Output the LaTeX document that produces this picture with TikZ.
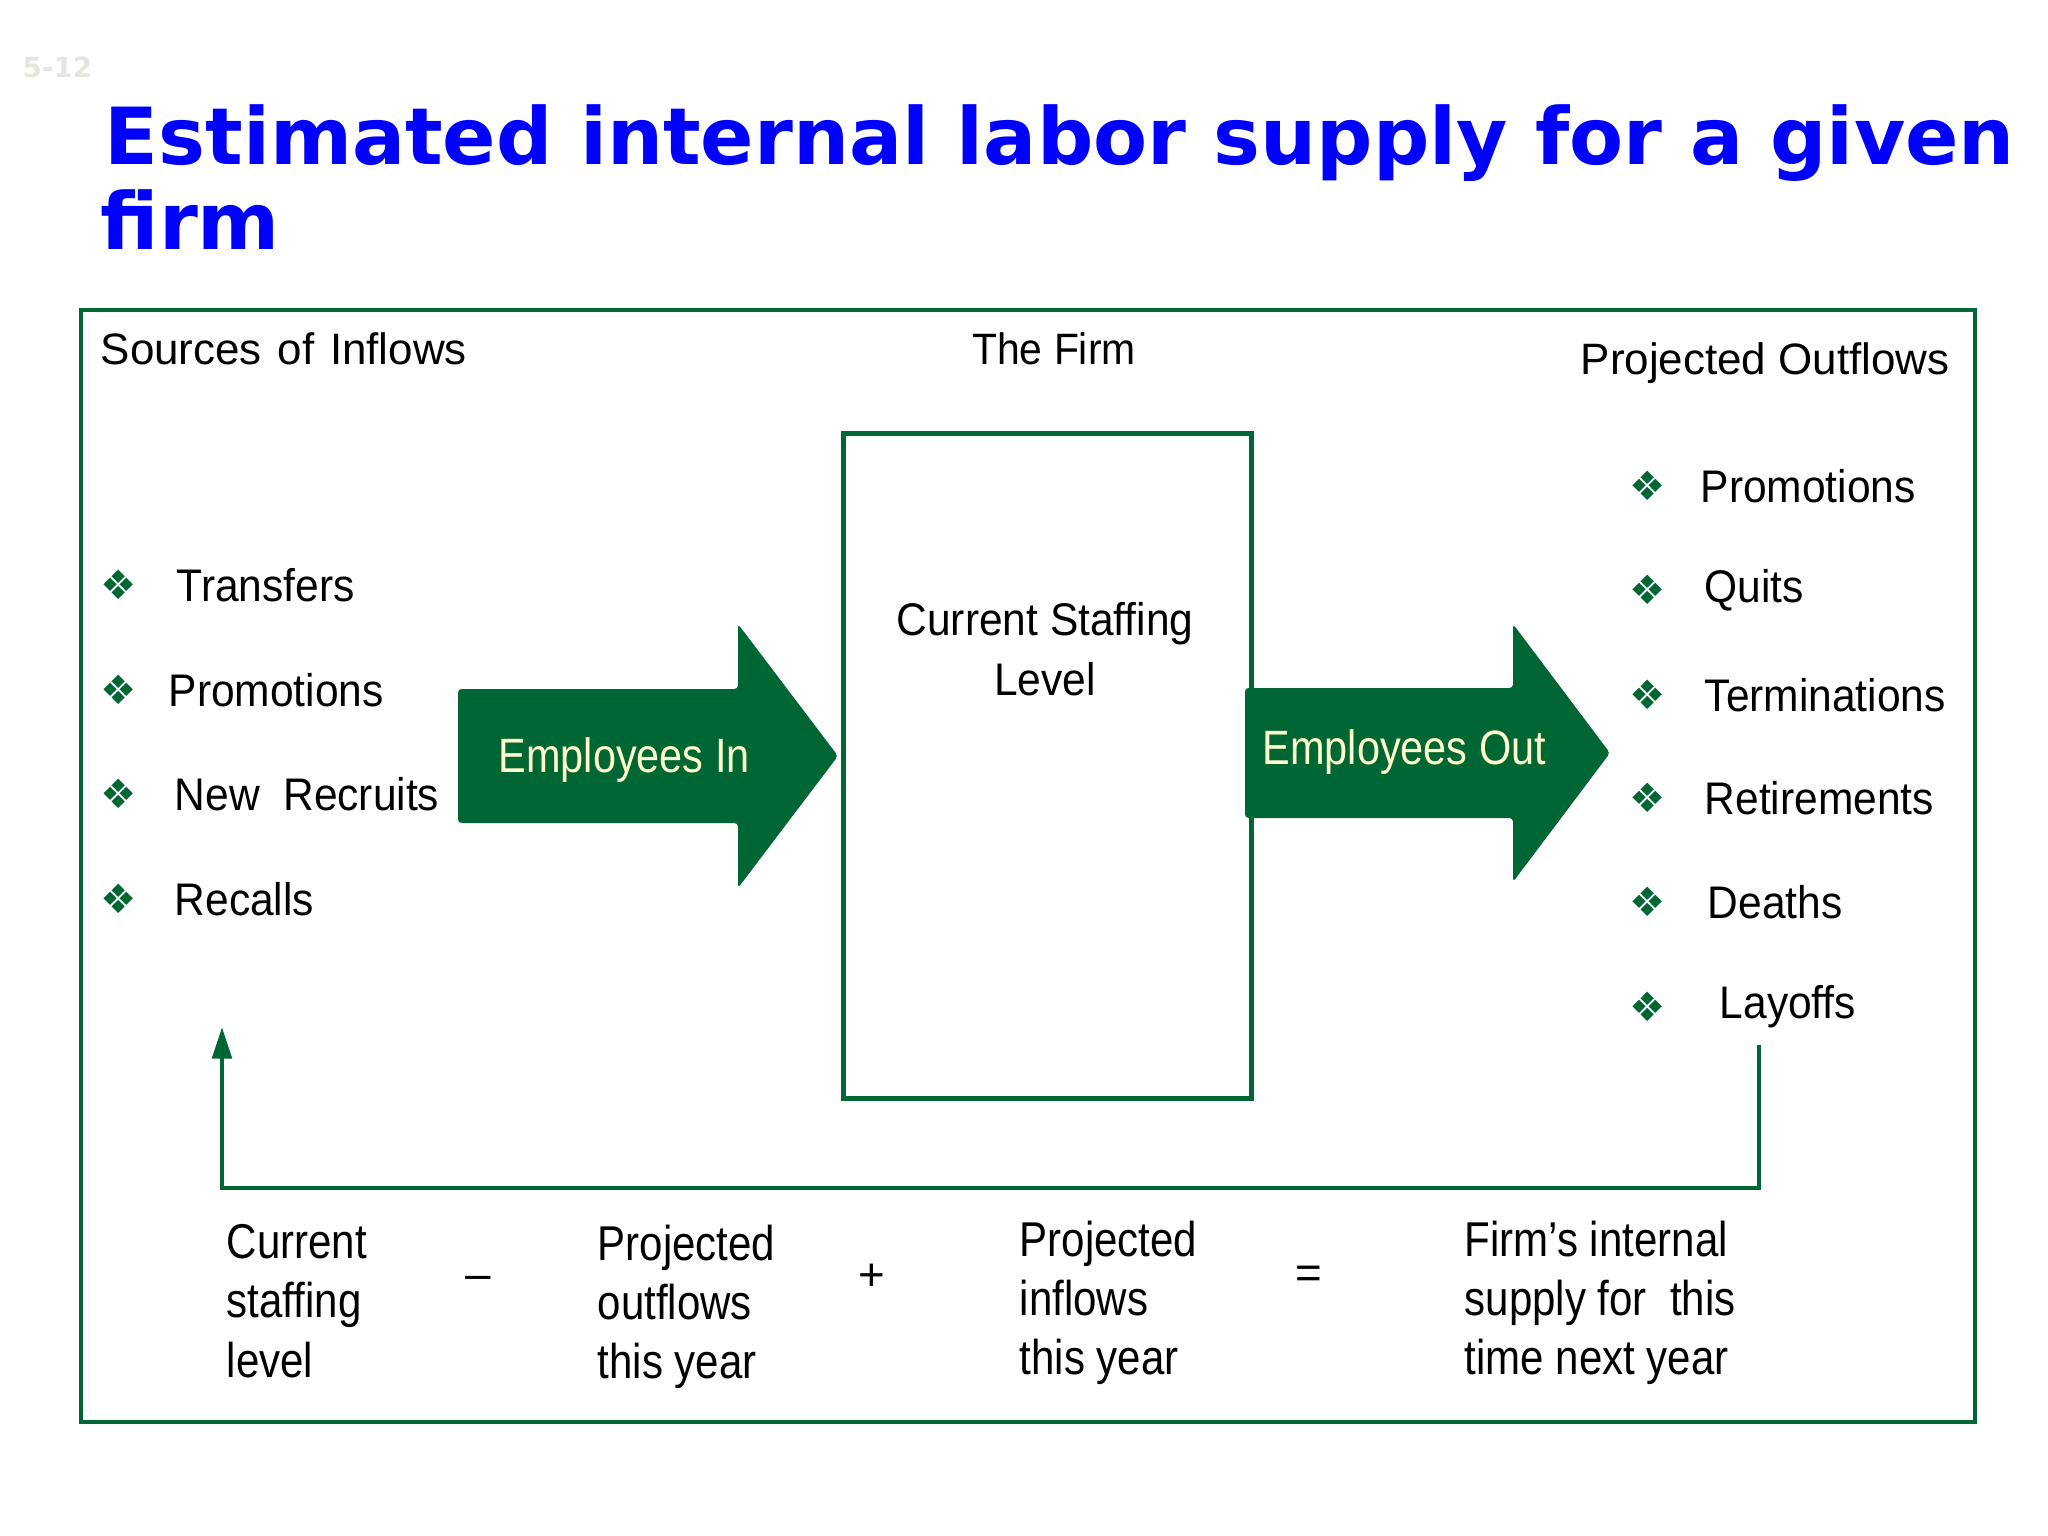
\documentclass[tikz,border=0pt]{standalone}
\usepackage{fontspec}
\setmainfont{Liberation Sans}
\newfontfamily\narrowfont[FakeStretch=0.86]{Liberation Sans}
\newfontfamily\boxfont[FakeStretch=0.93]{Liberation Sans}
\newfontfamily\titlefont{DejaVu Sans}
\newfontfamily\symfont{DejaVu Sans}
\usetikzlibrary{arrows.meta}
\definecolor{firmgreen}{RGB}{0,102,51}
\definecolor{titleblue}{RGB}{0,0,255}
\definecolor{arrowtext}{RGB}{255,255,204}
\definecolor{pagegray}{RGB}{230,230,224}

\begin{document}
\begin{tikzpicture}[x=0.01cm, y=-0.01cm, inner sep=0pt,
    titletext/.style={font=\titlefont\bfseries\fontsize{22.4}{26}\selectfont, text=titleblue},
    headtext/.style={font=\fontsize{12.5}{15}\selectfont},
    item/.style={font=\boxfont\fontsize{13}{15}\selectfont, anchor=west},
    bullet/.style={font=\symfont\fontsize{11.5}{11.5}\selectfont, text=firmgreen},
    arrowlabel/.style={font=\narrowfont\fontsize{13.7}{16}\selectfont, text=arrowtext, anchor=west},
    sumtext/.style={font=\narrowfont\fontsize{13.9}{16.8}\selectfont, align=left, anchor=north west},
    optext/.style={font=\fontsize{13}{15}\selectfont},
    greenline/.style={draw=firmgreen, line width=1.4pt}]
    \useasboundingbox (0,0) rectangle (2048,1536);

    % slide number and title
    \node[anchor=base west, font=\titlefont\bfseries\fontsize{7.9}{9}\selectfont, text=pagegray] (slideno) at (22,77) {5-12};
    \node[titletext, anchor=base west] (title) at (104,164) {Estimated internal labor supply for a given};
    \node[titletext, anchor=base west] (titlecont) at (100,249) {firm};

    % outer frame and the firm
    \draw[greenline] (81,310) rectangle (1975,1422);
    \node[greenline, minimum width=4.07cm, minimum height=6.64cm] (firm) at (1047.5,766) {};
    \node[font=\boxfont\fontsize{13}{17}\selectfont, align=center] (staffing) at (1045,649) {Current Staffing\\Level};

    \node[headtext, anchor=west] (sources) at (100,349) {Sources\ \kern1pt of\ \kern1pt Inflows};
    \node[headtext, font=\boxfont\fontsize{12.5}{15}\selectfont] (thefirm) at (1054,349) {The Firm};
    \node[headtext, anchor=west] (outflows) at (1580,363) {Projected Outflows};

    % inflows
    \foreach \nm/\txt/\tx/\ty in {trans/Transfers/176/585, promin/Promotions/168/690,
        recruit/{New~ Recruits}/174/794, recall/Recalls/174/899}{
        \node[bullet] (\nm-b) at (119,\ty) {❖};
        \node[item] (\nm) at (\tx,\ty) {\txt};
    }
    % outflows
    \foreach \nm/\txt/\tx/\ty in {promout/Promotions/1700/486, quit/Quits/1704/590,
        term/Terminations/1704/695, retire/Retirements/1704/798,
        death/Deaths/1707/902, layoff/Layoffs/1719/1007}{
        \node[bullet] (\nm-b) at (1648,\ty) {❖};
        \node[item] (\nm) at (\tx,\ty) {\txt};
    }

    % block arrows
    \fill[firmgreen, rounded corners=1pt] (458,689) -- (738,689) -- (738,624) -- (838,756)
        -- (738,888) -- (738,823) -- (458,823) -- cycle;
    \node[arrowlabel] (empin) at (498,760) {Employees In};
    \fill[firmgreen, rounded corners=1pt] (1245,688) -- (1513,688) -- (1513,624) -- (1610,753)
        -- (1513,882) -- (1513,818) -- (1245,818) -- cycle;
    \node[arrowlabel] (empout) at (1262,752) {Employees Out};

    % feedback to next year
    \coordinate (fbtop) at (1759,1045);
    \coordinate (fbcorner) at (222,1188);
    \coordinate (fbtip) at (222,1027);
    \draw[draw=firmgreen, line width=1.3pt, -{Triangle[length=9pt,width=5.5pt]}] (fbtop) |- (fbcorner) -- (fbtip);

    % the sum
    \node[sumtext] (current) at (226,1224) {Current\\staffing\\level};
    \node[optext] (minus) at (478,1283) {–};
    \node[sumtext] (projout) at (597,1224) {Projected\\outflows\\this year};
    \node[optext] (plus) at (872,1277) {+};
    \node[sumtext] (projin) at (1019,1220) {Projected\\inflows\\this year};
    \node[optext] (equals) at (1309,1277) {=};
    \node[sumtext] (supply) at (1464,1220) {Firm’s internal\\supply for~ this\\time next year};
\end{tikzpicture}
\end{document}
